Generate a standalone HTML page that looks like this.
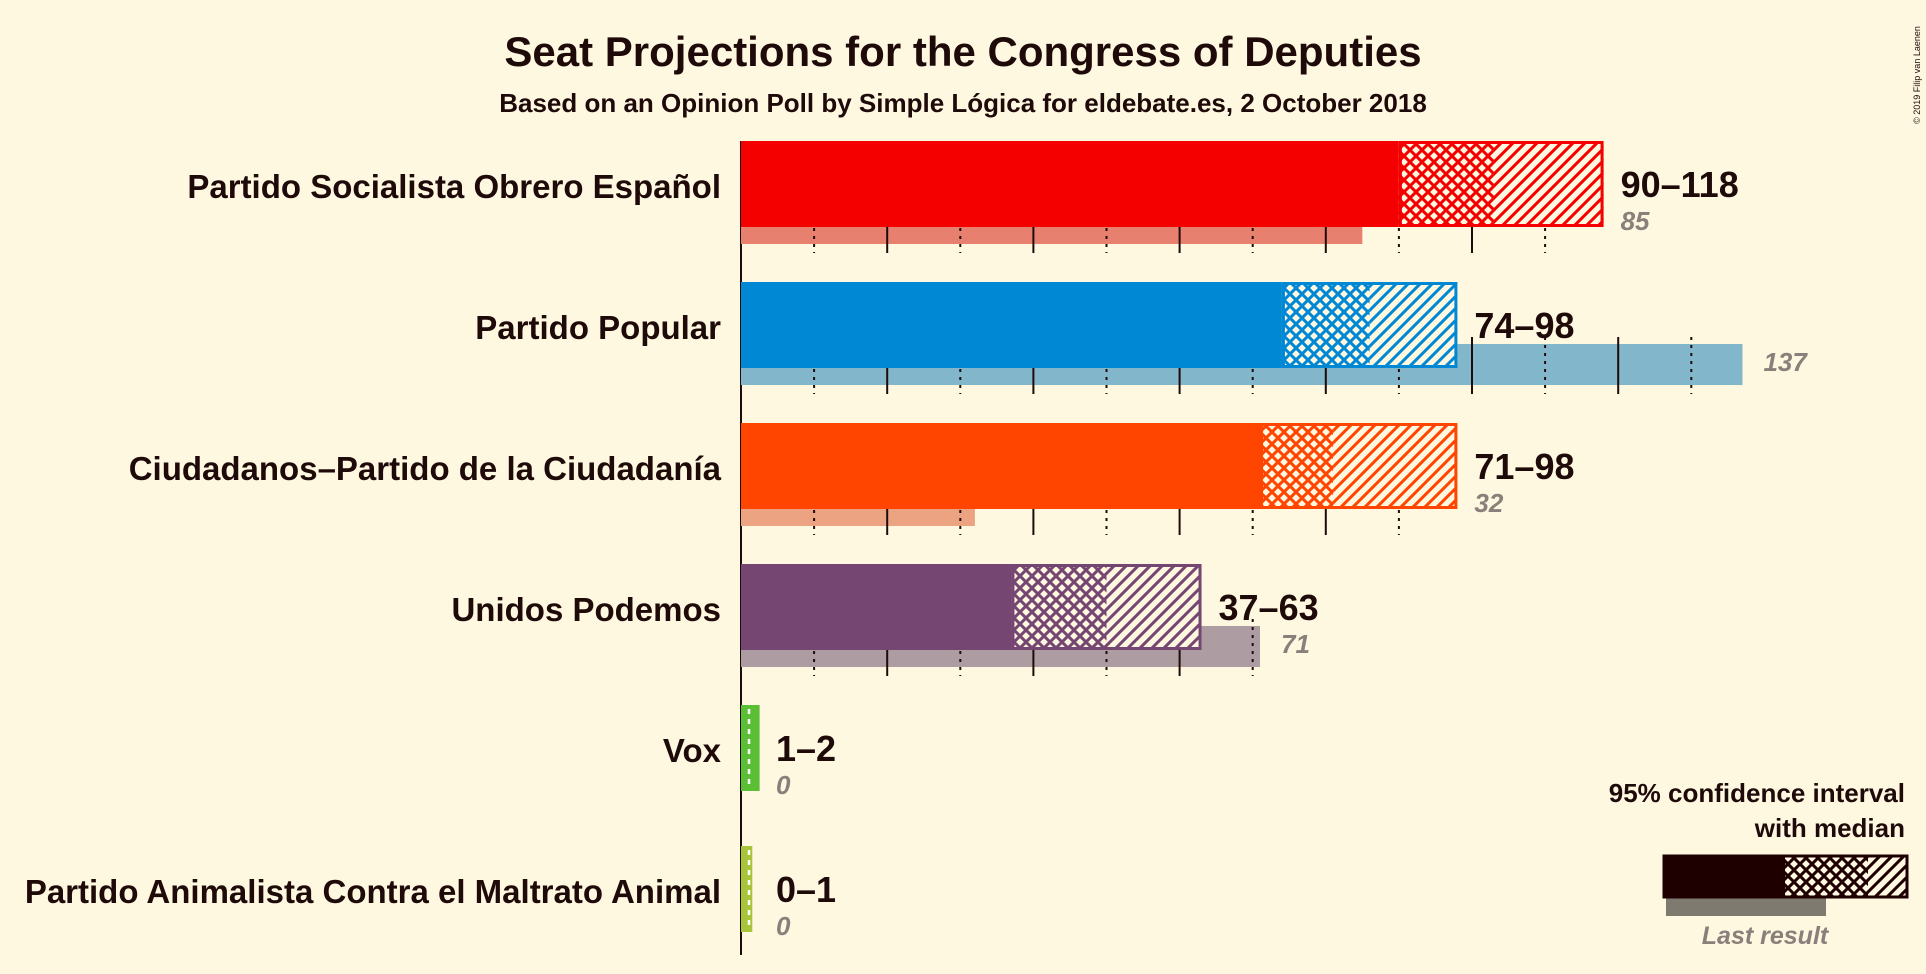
<!DOCTYPE html>
<html><head><meta charset="utf-8"><style>
html,body{margin:0;padding:0;background:#fff8e1;}
svg{display:block;font-family:"Liberation Sans",sans-serif;}
</style></head><body>
<svg id="chart" width="1926" height="974" viewBox="0 0 1926 974" xmlns="http://www.w3.org/2000/svg">
<rect width="1926" height="974" fill="#fff8e1"/>
<defs id="defs"></defs>
<text x="963" y="66" text-anchor="middle" font-size="42" font-weight="bold" fill="#1f0a0a">Seat Projections for the Congress of Deputies</text>
<text x="963" y="112" text-anchor="middle" font-size="26" font-weight="bold" fill="#1f0a0a">Based on an Opinion Poll by Simple Lógica for eldebate.es, 2 October 2018</text>
<text transform="translate(1920,75) rotate(-90)" text-anchor="middle" font-size="9" fill="#1f0a0a">© 2019 Filip van Laenen</text>
<g id="rows"></g>
<g id="legend">
<text x="1905" y="802" text-anchor="end" font-size="26" font-weight="bold" fill="#1f0a0a">95% confidence interval</text>
<text x="1905" y="837" text-anchor="end" font-size="26" font-weight="bold" fill="#1f0a0a">with median</text>
<rect x="1666" y="898" width="160" height="18" fill="#7f7a70"/>
<rect x="1663" y="855" width="122" height="43" fill="#1f0000"/>
<rect x="1785" y="857" width="83" height="39" fill="url(#cross-legend)"/>
<rect x="1868" y="857" width="38" height="39" fill="url(#diag-legend)"/>
<rect x="1664" y="856" width="243" height="41" fill="none" stroke="#1f0000" stroke-width="3"/>
<text x="1765" y="944" text-anchor="middle" font-size="25" font-style="italic" font-weight="bold" fill="#8a7f7a">Last result</text>
</g>
</svg>
<script>
const parties = ["Partido Socialista Obrero Español","Partido Popular","Ciudadanos–Partido de la Ciudadanía","Unidos Podemos","Vox","Partido Animalista Contra el Maltrato Animal"];
const lows = [90,74,71,37,1,0];
const medians = [103,86,81,50,1,0];
const highs = [118,98,98,63,2,1];
const lastResults = [85,137,32,71,0,0];
const colors = ["#f50000","#0088d5","#ff4500","#764672","#5abf35","#a8c43a"];
const lastColors = ["#e8806f","#82b6ca","#eba382","#ad9ca2","#b0d8a0","#d0dca0"];

const NS="http://www.w3.org/2000/svg";
const X0=741, PX=7.31, TOP0=141, PITCH=141, BH=86;
function x(v){return X0+v*PX;}
function rowTop(i){return TOP0+i*PITCH;}
function mk(tag,attrs,parent){const e=document.createElementNS(NS,tag);for(const k in attrs)e.setAttribute(k,attrs[k]);parent.appendChild(e);return e;}
const defs=document.getElementById('defs');
function patterns(id,col){
  const p1=mk('pattern',{id:'cross-'+id,width:12,height:12,patternUnits:'userSpaceOnUse'},defs);
  mk('rect',{width:12,height:12,fill:'#fff8e1'},p1);
  mk('path',{d:'M0,0L12,12M12,0L0,12',stroke:col,'stroke-width':3},p1);
  const p2=mk('pattern',{id:'diag-'+id,width:12,height:12,patternUnits:'userSpaceOnUse'},defs);
  mk('rect',{width:12,height:12,fill:'#fff8e1'},p2);
  mk('path',{d:'M-3,15L15,-3M-3,3L3,-3M9,15L15,9',stroke:col,'stroke-width':3},p2);
}
patterns('legend','#1f0000');
colors.forEach((c,i)=>patterns('p'+i,c));
const rows=document.getElementById('rows');
const axis=mk('line',{x1:X0,y1:TOP0,x2:X0,y2:955,stroke:'#1f0a0a','stroke-width':2},rows);


parties.forEach((name,i)=>{
  const t=rowTop(i);
  const g=mk('g',{},rows);
  
  
  const lr=mk('rect',{x:x(0),y:t+62,width:lastResults[i]*PX,height:41,fill:lastColors[i]},g);
  
  
  const mx=Math.max(highs[i],lastResults[i]);
  for(let v=10;v<mx && mx>5;v+=10){
    const tk=mk('line',{x1:x(v),y1:t+55,x2:x(v),y2:t+112,stroke:'#1f0a0a','stroke-width':2,'stroke-dasharray':v%20===0?'none':'3,5'},g);
    
    
  }
  const sb=mk('rect',{x:x(0),y:t,width:lows[i]*PX,height:BH,fill:colors[i]},g);
  
  
  const cb=mk('rect',{x:x(lows[i]),y:t,width:(medians[i]-lows[i])*PX,height:BH,fill:'url(#cross-p'+i+')'},g);
  
  
  const db=mk('rect',{x:x(medians[i]),y:t,width:(highs[i]-medians[i])*PX,height:BH,fill:'url(#diag-p'+i+')'},g);
  
  
  const ob=mk('rect',{x:x(lows[i])+1.5,y:t+1.5,width:Math.max((highs[i]-lows[i])*PX-3,0),height:BH-3,fill:'none',stroke:colors[i],'stroke-width':3},g);
  
  
  if(highs[i]<=2){
    const sm=mk('rect',{x:x(0),y:t,width:Math.max(highs[i]*PX,6)+4,height:BH,fill:colors[i]},g);
    
    
    const dl=mk('line',{x1:x(0)+8,y1:t+4,x2:x(0)+8,y2:t+BH-4,stroke:'#fff','stroke-width':2.5,'stroke-dasharray':'5,5'},g);
    
    
  }
  const lb=mk('text',{x:721,y:t+57,'text-anchor':'end','font-size':33,'font-weight':'bold',fill:'#1f0a0a'},g);
  lb.textContent=name;
  
  
  const end=Math.max(x(highs[i]),x(0)+18);
  const rl=mk('text',{x:end+17,y:t+56,'font-size':36,'font-weight':'bold',fill:'#1f0a0a'},g);
  rl.textContent=lows[i]+'–'+highs[i];
  
  
  const lx=Math.max(end,x(lastResults[i]))+17;
  const ll=mk('text',{x:lx+(lastResults[i]>highs[i]?4:0),y:t+89,'font-size':26,'font-style':'italic','font-weight':'bold',fill:'#8a7f7a'},g);
  ll.textContent=lastResults[i];
  
  
});
</script>
</body></html>
